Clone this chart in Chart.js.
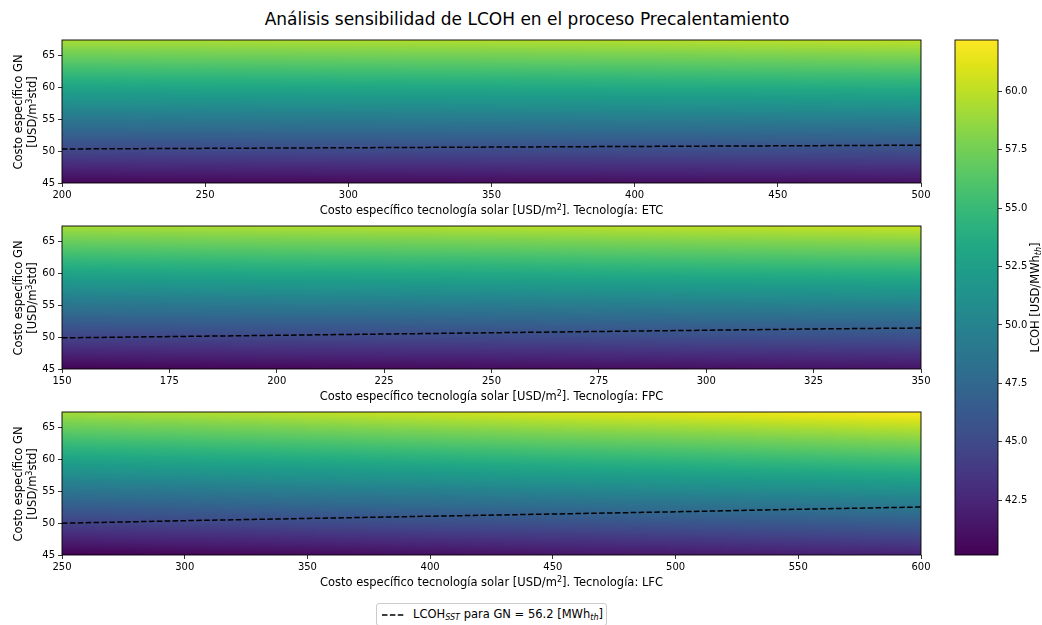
<!DOCTYPE html>
<html>
<head>
<meta charset="utf-8">
<script src="https://cdn.jsdelivr.net/npm/chart.js@4.4.1/dist/chart.umd.min.js"></script>
<style>
  body { margin: 0; background: #fff; font-family: "DejaVu Sans", sans-serif; color: #000; }
  #fig { position: relative; width: 1042px; height: 625px; overflow: hidden; background: #fff; }
  #fig canvas, .lbl { position: absolute; }
  .lbl { white-space: nowrap; font-size: 11.5px; line-height: 14px; text-align: center; }
  .sup { font-size: 0.7em; position: relative; top: -0.45em; }
  .sub { font-size: 0.7em; position: relative; top: 0.3em; font-style: italic; }
  #title { left: 0; width: 1054px; top: 8px; font-size: 17px; line-height: 22px; }
  #legend { left: 376px; top: 603px; width: 229px; height: 21px; border: 1px solid #ccc; border-radius: 3px;
            text-align: left; line-height: 21px; }
  #legend svg { position: absolute; left: 4px; top: 9px; }
  #legend span.txt { position: absolute; left: 36px; top: 0; }
</style>
</head>
<body>
<div id="fig">
  <div id="title" class="lbl">Análisis sensibilidad de LCOH en el proceso Precalentamiento</div>
  <div id="legend" class="lbl">
    <svg width="24" height="4"><line x1="1" y1="2" x2="23" y2="2" stroke="#000" stroke-width="1.5" stroke-dasharray="5.5,2.4"/></svg>
    <span class="txt">LCOH<span class="sub">SST</span> para GN = 56.2 [MWh<span class="sub">th</span>]</span>
  </div>
</div>
<script>
// GN cost levels (rows of every LCOH grid) and its axis ticks
const gnLevels = [45, 50, 55, 60, 65, 67.5];
const gnTicks = [45, 50, 55, 60, 65];

// ETC: solar cost columns, LCOH per GN row, break-even GN line
const etcCost = [200, 250, 300, 350, 400, 450, 500];
const etcLcoh = [
  [40.5, 40.6, 40.7, 40.8, 40.9, 41.0, 41.1],
  [44.7, 44.8, 44.9, 45.0, 45.1, 45.2, 45.3],
  [48.9, 49.0, 49.1, 49.2, 49.3, 49.4, 49.5],
  [53.0, 53.1, 53.2, 53.3, 53.45, 53.55, 53.7],
  [57.2, 57.3, 57.4, 57.5, 57.6, 57.75, 57.9],
  [59.3, 59.4, 59.5, 59.6, 59.7, 59.85, 60.0]
];
const etcGnLine = [50.35, 50.45, 50.55, 50.65, 50.75, 50.85, 50.95];
const etcTicks = [200, 250, 300, 350, 400, 450, 500];

// FPC
const fpcCost = [150, 200, 250, 300, 350];
const fpcLcoh = [
  [40.3, 40.55, 40.8, 41.05, 41.3],
  [44.5, 44.8, 45.0, 45.3, 45.5],
  [48.7, 49.0, 49.2, 49.5, 49.75],
  [52.9, 53.2, 53.4, 53.7, 53.95],
  [57.1, 57.4, 57.6, 57.9, 58.15],
  [59.2, 59.5, 59.75, 60.0, 60.3]
];
const fpcLineCost = [150, 175, 200, 225, 250, 275, 300, 325, 350];
const fpcGnLine = [49.9, 50.1, 50.3, 50.5, 50.7, 50.9, 51.1, 51.3, 51.45];
const fpcTicks = [150, 175, 200, 225, 250, 275, 300, 325, 350];

// LFC
const lfcCost = [250, 300, 350, 400, 450, 500, 550, 600];
const lfcLcoh = [
  [40.15, 40.45, 40.7, 41.0, 41.3, 41.6, 41.9, 42.2],
  [44.4, 44.7, 45.0, 45.3, 45.6, 45.9, 46.2, 46.6],
  [48.6, 48.9, 49.3, 49.6, 50.0, 50.3, 50.6, 51.0],
  [52.85, 53.2, 53.5, 53.9, 54.3, 54.6, 55.0, 55.4],
  [57.1, 57.4, 57.8, 58.2, 58.6, 58.9, 59.3, 59.8],
  [59.2, 59.6, 60.05, 60.5, 60.9, 61.3, 61.8, 62.2]
];
const lfcGnLine = [50.0, 50.4, 50.75, 51.1, 51.45, 51.8, 52.2, 52.55];
const lfcTicks = [250, 300, 350, 400, 450, 500, 550, 600];

// colour scale shared by the three panels
const cbMin = 40.15, cbMax = 62.2;
const cbTicks = [42.5, 45.0, 47.5, 50.0, 52.5, 55.0, 57.5, 60.0];

const panels = [
  { top: 40,  tech: 'ETC', cols: etcCost, grid: etcLcoh, lineX: etcCost,     lineY: etcGnLine, ticks: etcTicks },
  { top: 226, tech: 'FPC', cols: fpcCost, grid: fpcLcoh, lineX: fpcLineCost, lineY: fpcGnLine, ticks: fpcTicks },
  { top: 412, tech: 'LFC', cols: lfcCost, grid: lfcLcoh, lineX: lfcCost,     lineY: lfcGnLine, ticks: lfcTicks }
];
const PLOT_H = 143;

Chart.defaults.font.family = 'DejaVu Sans';
Chart.defaults.color = '#000';

// viridis colour stops
const viridisStops = ['#440154', '#471365', '#482475', '#463480', '#414487', '#3b528b', '#355f8d',
  '#2f6c8e', '#2a788e', '#25848e', '#21918c', '#1e9c89', '#22a884', '#2fb47c', '#44bf70', '#5ec962',
  '#7ad151', '#9bd93c', '#bddf26', '#dfe318', '#fde725'].map(h => [1, 3, 5].map(i => parseInt(h.substr(i, 2), 16)));

function viridis(t) {
  t = Math.min(1, Math.max(0, t)) * (viridisStops.length - 1);
  const i = Math.min(Math.floor(t), viridisStops.length - 2), f = t - i;
  const a = viridisStops[i], b = viridisStops[i + 1];
  return [a[0] + (b[0] - a[0]) * f, a[1] + (b[1] - a[1]) * f, a[2] + (b[2] - a[2]) * f];
}

function locate(arr, v) {
  let i = 0;
  while (i < arr.length - 2 && v > arr[i + 1]) i++;
  const t = (v - arr[i]) / (arr[i + 1] - arr[i]);
  return [i, Math.min(1, Math.max(0, t))];
}

// shaded LCOH field under the datasets, positioned with the chart scales
function makeHeatmap(p) {
  return {
    id: 'heatmap',
    beforeDatasetsDraw(chart) {
      const { ctx, chartArea: a, scales: { x, y } } = chart;
      const w = Math.round(a.right - a.left), h = Math.round(a.bottom - a.top);
      const off = document.createElement('canvas');
      off.width = w; off.height = h;
      const octx = off.getContext('2d');
      const img = octx.createImageData(w, h);
      const colIdx = [];
      for (let i = 0; i < w; i++) colIdx.push(locate(p.cols, x.getValueForPixel(a.left + i + 0.5)));
      for (let j = 0; j < h; j++) {
        const [r, ty] = locate(gnLevels, y.getValueForPixel(a.top + j + 0.5));
        const g0 = p.grid[r], g1 = p.grid[r + 1];
        for (let i = 0; i < w; i++) {
          const [c, tx] = colIdx[i];
          const v0 = g0[c] + (g0[c + 1] - g0[c]) * tx;
          const v1 = g1[c] + (g1[c + 1] - g1[c]) * tx;
          const col = viridis((v0 + (v1 - v0) * ty - cbMin) / (cbMax - cbMin));
          const k = (j * w + i) * 4;
          img.data[k] = col[0]; img.data[k + 1] = col[1]; img.data[k + 2] = col[2]; img.data[k + 3] = 255;
        }
      }
      octx.putImageData(img, 0, 0);
      ctx.drawImage(off, a.left, a.top);
    }
  };
}

const frame = {
  id: 'frame',
  afterDraw(chart) {
    const { ctx, chartArea: a } = chart;
    ctx.save();
    ctx.strokeStyle = '#000';
    ctx.lineWidth = 0.9;
    ctx.strokeRect(a.left, a.top, a.right - a.left, a.bottom - a.top);
    ctx.restore();
  }
};

const tickGrid = { display: true, drawOnChartArea: false, drawTicks: true, tickLength: 4, color: '#000', lineWidth: 0.8 };
const tickFont = { size: 10 };
const fig = document.getElementById('fig');

function addLabel(html, css) {
  const d = document.createElement('div');
  d.className = 'lbl';
  d.innerHTML = html;
  Object.assign(d.style, css);
  fig.appendChild(d);
}

panels.forEach(p => {
  const cv = document.createElement('canvas');
  cv.width = 940; cv.height = PLOT_H + 32;
  cv.style.left = '0px'; cv.style.top = (p.top - 10) + 'px';
  fig.appendChild(cv);

  new Chart(cv, {
    type: 'line',
    data: {
      datasets: [{
        label: 'LCOH SST',
        data: p.lineX.map((x, i) => ({ x: x, y: p.lineY[i] })),
        borderColor: '#000',
        borderWidth: 1.5,
        borderDash: [5.5, 2.4],
        pointRadius: 0,
        fill: false
      }]
    },
    options: {
      responsive: false,
      animation: false,
      events: [],
      layout: { padding: { left: 0, right: 19, top: 10, bottom: 0 } },
      plugins: { legend: { display: false }, tooltip: { enabled: false } },
      scales: {
        x: {
          type: 'linear',
          min: p.ticks[0], max: p.ticks[p.ticks.length - 1],
          afterBuildTicks: s => { s.ticks = p.ticks.map(v => ({ value: v })); },
          afterFit: s => { s.height = 22; },
          grid: tickGrid,
          border: { display: false },
          ticks: { font: tickFont, padding: 2, maxRotation: 0, autoSkip: false, callback: v => String(v) }
        },
        y: {
          min: gnLevels[0], max: gnLevels[gnLevels.length - 1],
          afterBuildTicks: s => { s.ticks = gnTicks.map(v => ({ value: v })); },
          afterFit: s => { s.width = 62; },
          grid: tickGrid,
          border: { display: false },
          ticks: { font: tickFont, padding: 3, callback: v => String(v) }
        }
      }
    },
    plugins: [makeHeatmap(p), frame]
  });

  // axis titles
  addLabel('Costo específico tecnología solar [USD/m<span class="sup">2</span>]. Tecnología: ' + p.tech,
    { left: '62px', width: '859px', top: (p.top + PLOT_H + 20) + 'px' });
  addLabel('Costo específico GN<br>[USD/m<span class="sup">3</span>std]',
    { left: (25 - 80) + 'px', width: '160px', top: (p.top + 58) + 'px', height: '28px',
      transform: 'rotate(-90deg)' });
});

// colour bar
const cbCanvas = document.createElement('canvas');
cbCanvas.width = 102; cbCanvas.height = 625;
cbCanvas.style.left = '940px'; cbCanvas.style.top = '0px';
fig.appendChild(cbCanvas);

const colorbar = {
  id: 'colorbar',
  beforeDatasetsDraw(chart) {
    const { ctx, chartArea: a, scales: { y } } = chart;
    for (let py = Math.floor(a.top); py < a.bottom; py++) {
      const c = viridis((y.getValueForPixel(py + 0.5) - cbMin) / (cbMax - cbMin));
      ctx.fillStyle = 'rgb(' + c.map(Math.round).join(',') + ')';
      ctx.fillRect(a.left, py, a.right - a.left, 1);
    }
  },
  afterDraw(chart) {
    // rotated label with subscript, to the right of the tick labels
    const { ctx, chartArea: a } = chart;
    const parts = [
      { t: 'LCOH [USD/MWh', f: '11.5px "DejaVu Sans"', dy: 0 },
      { t: 'th', f: 'italic 8px "DejaVu Sans"', dy: 3 },
      { t: ']', f: '11.5px "DejaVu Sans"', dy: 0 }
    ];
    ctx.save();
    ctx.translate(96, (a.top + a.bottom) / 2);
    ctx.rotate(-Math.PI / 2);
    ctx.fillStyle = '#000';
    ctx.textBaseline = 'middle';
    let total = 0;
    parts.forEach(s => { ctx.font = s.f; s.w = ctx.measureText(s.t).width; total += s.w; });
    let x = -total / 2;
    parts.forEach(s => { ctx.font = s.f; ctx.fillText(s.t, x, s.dy); x += s.w; });
    ctx.restore();
  }
};

new Chart(cbCanvas, {
  type: 'line',
  data: { datasets: [] },
  options: {
    responsive: false,
    animation: false,
    events: [],
    layout: { padding: { left: 15, right: 0, top: 40, bottom: 70 } },
    plugins: { legend: { display: false }, tooltip: { enabled: false } },
    scales: {
      x: { type: 'linear', display: false, min: 0, max: 1 },
      y: {
        position: 'right',
        min: cbMin, max: cbMax,
        afterBuildTicks: s => { s.ticks = cbTicks.map(v => ({ value: v })); },
        afterFit: s => { s.width = 44; },
        grid: tickGrid,
        border: { display: false },
        ticks: { font: tickFont, padding: 3, callback: v => v.toFixed(1) }
      }
    }
  },
  plugins: [colorbar, frame]
});
</script>
</body>
</html>
